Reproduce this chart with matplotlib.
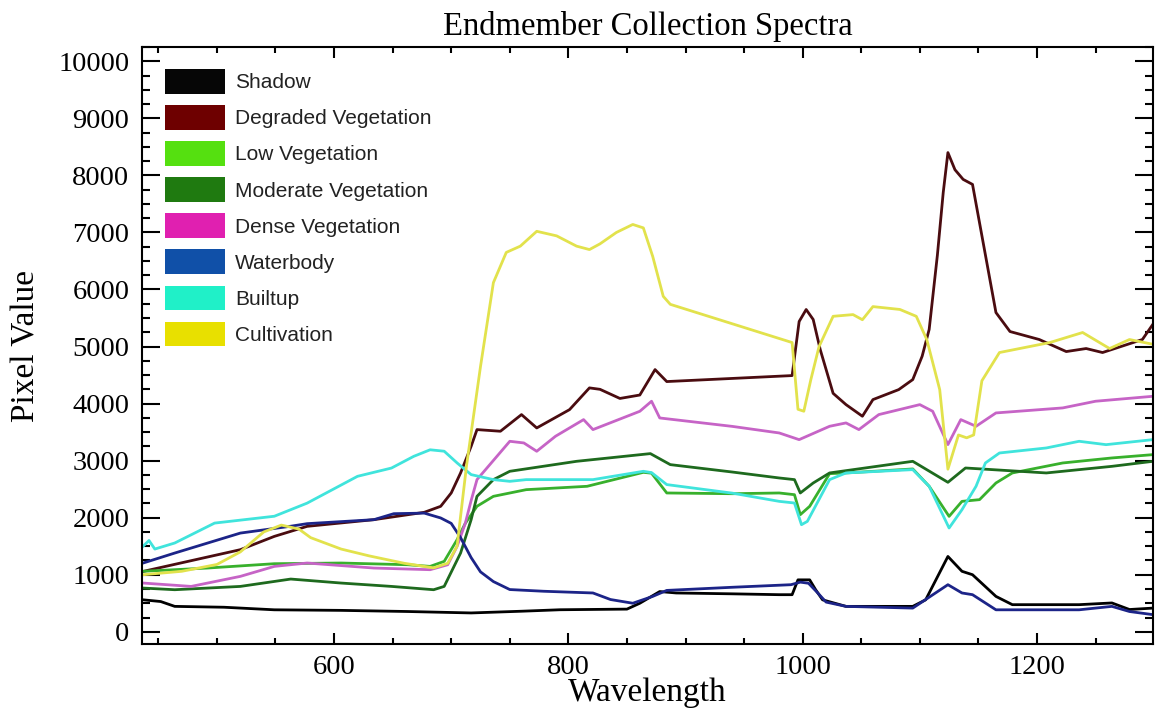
import numpy as np
import matplotlib.pyplot as plt
from matplotlib.patches import Patch
from matplotlib.ticker import MultipleLocator

# spectra (wavelength, pixel value)
shadow_wl = [437, 452, 464, 506, 549, 606, 663, 717, 760, 793, 850, 861, 878, 892, 940,
             980, 991, 996, 1006, 1011, 1017, 1037, 1094, 1105, 1124, 1136, 1145, 1165,
             1179, 1236, 1264, 1279, 1299]
shadow_val = [560, 530, 445, 430, 385, 375, 355, 330, 360, 386, 397, 500, 705, 680, 665,
              650, 650, 910, 910, 740, 560, 445, 445, 560, 1320, 1060, 1000, 620,
              475, 475, 505, 390, 415]

degraded_wl = [437, 520, 549, 577, 634, 677, 691, 700, 708, 717, 722, 742, 760, 773, 801,
               818, 827, 844, 861, 874, 884, 991, 997, 1003, 1009, 1015, 1026, 1037, 1051,
               1060, 1082, 1094, 1102, 1108, 1115, 1120, 1124, 1130, 1137, 1145, 1165,
               1177, 1202, 1225, 1242, 1256, 1290, 1300]
degraded_val = [1058, 1439, 1672, 1848, 1965, 2094, 2199, 2433, 2784, 3251, 3544, 3515, 3807,
                3573, 3894, 4275, 4250, 4090, 4150, 4596, 4386, 4491, 5439, 5649, 5474, 4947,
                4180, 3982, 3778, 4070, 4245, 4421, 4830, 5300, 6600, 7700, 8400, 8100, 7930,
                7842, 5596, 5263, 5123, 4912, 4965, 4895, 5123, 5421]

low_wl = [437, 492, 549, 606, 663, 682, 694, 705, 712, 722, 736, 764, 816, 864, 871, 884,
          940, 980, 993, 998, 1006, 1023, 1037, 1094, 1108, 1125, 1136, 1151, 1165, 1179,
          1222, 1264, 1299]
low_val = [1060, 1117, 1193, 1205, 1175, 1146, 1234, 1614, 1900, 2200, 2374, 2491, 2550,
           2795, 2780, 2433, 2420, 2433, 2403, 2053, 2199, 2772, 2784, 2854, 2550, 2023,
           2286, 2316, 2608, 2784, 2959, 3047, 3105]

moderate_wl = [437, 464, 520, 563, 606, 649, 685, 694, 708, 717, 722, 736, 750, 807, 870,
               887, 940, 980, 993, 998, 1009, 1023, 1094, 1124, 1139, 1208, 1264, 1299]
moderate_val = [766, 737, 795, 924, 854, 795, 737, 795, 1380, 1965, 2374, 2667, 2813, 2988,
                3123, 2930, 2800, 2696, 2667, 2433, 2608, 2784, 2988, 2620, 2871, 2784,
                2900, 2988]

dense_wl = [437, 478, 520, 549, 577, 634, 682, 697, 705, 712, 717, 722, 750, 762, 773, 789,
            813, 821, 861, 871, 878, 940, 980, 997, 1023, 1037, 1048, 1065, 1100, 1111,
            1124, 1135, 1148, 1165, 1222, 1250, 1299]
dense_val = [854, 795, 971, 1146, 1205, 1117, 1088, 1175, 1497, 1900, 2300, 2667, 3339,
             3310, 3164, 3427, 3719, 3544, 3865, 4041, 3748, 3600, 3485, 3368, 3602, 3661,
             3544, 3807, 3982, 3865, 3281, 3719, 3602, 3836, 3924, 4041, 4128]

water_wl = [437, 464, 520, 563, 577, 634, 651, 677, 691, 700, 708, 717, 725, 736, 750, 779,
            821, 836, 855, 872, 884, 940, 990, 998, 1005, 1012, 1020, 1037, 1094, 1124,
            1136, 1145, 1165, 1236, 1264, 1279, 1299]
water_val = [1205, 1380, 1730, 1850, 1895, 1965, 2070, 2080, 1995, 1900, 1650, 1300, 1050,
             880, 740, 710, 680, 565, 500, 620, 725, 780, 825, 870, 850, 700, 520, 445,
             415, 825, 680, 650, 385, 385, 445, 355, 300]

builtup_wl = [437, 442, 447, 464, 498, 549, 577, 620, 649, 668, 682, 694, 705, 717, 736,
              750, 764, 821, 864, 871, 884, 940, 980, 993, 999, 1004, 1023, 1037, 1094,
              1108, 1125, 1136, 1148, 1156, 1168, 1208, 1236, 1259, 1299]
builtup_val = [1500, 1600, 1450, 1556, 1905, 2025, 2255, 2725, 2870, 3075, 3190, 3165, 2960,
               2755, 2667, 2637, 2667, 2667, 2813, 2790, 2580, 2430, 2286, 2257, 1877, 1935,
               2667, 2784, 2842, 2550, 1819, 2140, 2550, 2959, 3134, 3222, 3339, 3280, 3368]

cult_wl = [437, 470, 500, 520, 540, 555, 570, 580, 606, 630, 660, 685, 697, 705, 713, 725,
           736, 747, 759, 773, 790, 807, 818, 827, 841, 855, 864, 872, 881, 887, 991, 996,
           1001, 1007, 1014, 1026, 1043, 1051, 1060, 1083, 1097, 1106, 1117, 1124, 1133,
           1140, 1146, 1153, 1168, 1211, 1239, 1262, 1279, 1300]
cult_val = [1000, 1060, 1180, 1400, 1750, 1870, 1800, 1650, 1450, 1330, 1200, 1120, 1200,
            1500, 2900, 4650, 6120, 6650, 6760, 7020, 6940, 6760, 6700, 6800, 7000, 7140,
            7080, 6580, 5880, 5740, 5070, 3900, 3866, 4421, 5000, 5530, 5560, 5470, 5700,
            5650, 5530, 5120, 4245, 2850, 3450, 3400, 3450, 4400, 4895, 5070, 5246, 4965,
            5123, 5035]

names = ['Shadow', 'Degraded Vegetation', 'Low Vegetation', 'Moderate Vegetation',
         'Dense Vegetation', 'Waterbody', 'Builtup', 'Cultivation']
series = [(shadow_wl, shadow_val), (degraded_wl, degraded_val), (low_wl, low_val),
          (moderate_wl, moderate_val), (dense_wl, dense_val), (water_wl, water_val),
          (builtup_wl, builtup_val), (cult_wl, cult_val)]
line_colors = ['#000000', '#4a0c10', '#38b02c', '#1e6a1e', '#c664c6', '#1c2488',
               '#40e4dc', '#e2e24c']
legend_colors = ['#060606', '#6e0000', '#55e010', '#1f7a10', '#e020b0', '#1050a8',
                 '#20f0c8', '#e8e000']

serif = 'Liberation Serif'

fig = plt.figure(figsize=(11.55, 7.14), dpi=100)
ax = fig.add_axes([0.1229, 0.098, 0.8753, 0.8361])

for (wl, val), c in zip(series, line_colors):
    ax.plot(wl, val, color=c, lw=2.0)

ax.set_xlim(436, 1299)
ax.set_ylim(-215, 10250)
ax.xaxis.set_major_locator(MultipleLocator(200))
ax.xaxis.set_minor_locator(MultipleLocator(50))
ax.yaxis.set_major_locator(MultipleLocator(1000))
ax.yaxis.set_minor_locator(MultipleLocator(250))

ax.tick_params(which='both', direction='in', top=True, right=True, width=1.5, color='black')
ax.xaxis.set_tick_params(which='major', length=8, pad=8)
ax.xaxis.set_tick_params(which='minor', length=4.5)
ax.yaxis.set_tick_params(which='major', length=13, pad=9)
ax.yaxis.set_tick_params(which='minor', length=6)
for lab in ax.get_xticklabels() + ax.get_yticklabels():
    lab.set_fontfamily(serif)
    lab.set_fontsize(20.5)
for sp in ax.spines.values():
    sp.set_linewidth(1.5)

ax.set_title('Endmember Collection Spectra', fontfamily=serif, fontsize=23.5, pad=9)
ax.set_xlabel('Wavelength', fontfamily=serif, fontsize=24, labelpad=-2)
ax.set_ylabel('Pixel Value', fontfamily=serif, fontsize=24, labelpad=12)

handles = [Patch(facecolor=c, edgecolor='none') for c in legend_colors]
ax.legend(handles, names, loc='upper left', bbox_to_anchor=(0.0228, 0.963),
          frameon=False, borderpad=0, borderaxespad=0, handlelength=2.88,
          handleheight=1.44, labelspacing=0.55, handletextpad=0.48,
          prop={'family': 'Liberation Sans', 'size': 15}, labelcolor='#222222')

fig.savefig('out.png', dpi=100)
